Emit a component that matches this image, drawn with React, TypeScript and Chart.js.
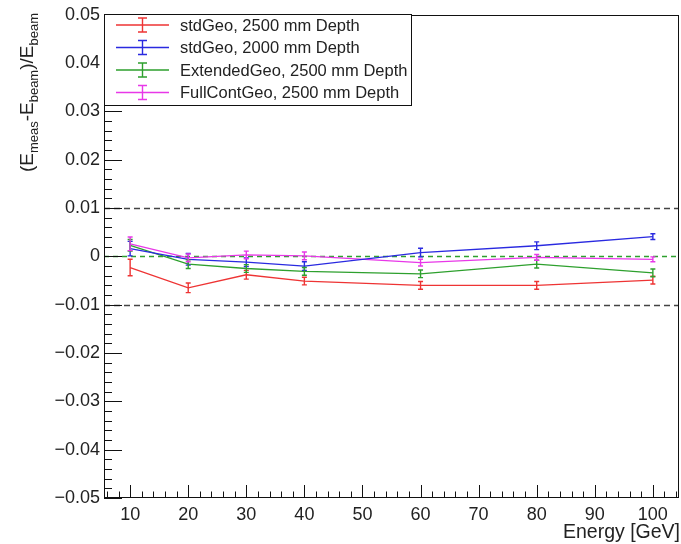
import React, { useEffect, useRef } from "react";
import { Chart, registerables } from "chart.js";

Chart.register(...registerables);

const energies = [10, 20, 30, 40, 60, 80, 100];

const stdGeo2500 = [-0.0023, -0.0065, -0.0038, -0.0051, -0.006, -0.006, -0.0049];
const stdGeo2500Err = [0.0017, 0.001, 0.0009, 0.0008, 0.0008, 0.0008, 0.0008];

const stdGeo2000 = [0.0016, -0.0006, -0.0012, -0.002, 0.0008, 0.0022, 0.0041];
const stdGeo2000Err = [0.0015, 0.0012, 0.0009, 0.0009, 0.0009, 0.0008, 0.0006];

const extGeo2500 = [0.0023, -0.0016, -0.0025, -0.0031, -0.0036, -0.0016, -0.0034];
const extGeo2500Err = [0.0012, 0.0009, 0.0008, 0.0008, 0.0008, 0.0008, 0.0008];

const fullContGeo2500 = [0.0026, -0.0003, 0.0003, 0.0001, -0.0013, -0.0002, -0.0006];
const fullContGeo2500Err = [0.0014, 0.0008, 0.0008, 0.0008, 0.0007, 0.0006, 0.0005];

const seriesNames = [
  "stdGeo, 2500 mm Depth",
  "stdGeo, 2000 mm Depth",
  "ExtendedGeo, 2500 mm Depth",
  "FullContGeo, 2500 mm Depth",
];
const seriesColors = ["#ee3434", "#2a2ae0", "#2ea02e", "#e838e8"];

const xTicks = [10, 20, 30, 40, 50, 60, 70, 80, 90, 100];
const yTicks = [-0.05, -0.04, -0.03, -0.02, -0.01, 0, 0.01, 0.02, 0.03, 0.04, 0.05];
const refLines = [-0.01, 0, 0.01];

const xMin = 5.5;
const xMax = 104.5;
const yMin = -0.05;
const yMax = 0.05;

const FONT = "'Liberation Sans', Arial, sans-serif";

function fmtY(v: number): string {
  const r = Math.round(v * 100) / 100;
  if (Math.abs(r) < 1e-9) return "0";
  const s = Math.abs(r).toFixed(2);
  return (r < 0 ? "\u2212" : "") + s;
}

const rootPlugin = {
  id: "rootStyle",
  beforeDatasetsDraw(chart: any) {
    const { ctx, chartArea, scales } = chart;
    const y = scales.y;
    ctx.save();
    for (const v of refLines) {
      const py = Math.round(y.getPixelForValue(v)) + 0.5;
      ctx.beginPath();
      if (v === 0) {
        ctx.strokeStyle = "#2ea02e";
        ctx.lineWidth = 1.5;
        ctx.setLineDash([5, 4]);
      } else {
        ctx.strokeStyle = "#444";
        ctx.lineWidth = 1.5;
        ctx.setLineDash([6, 4]);
      }
      ctx.moveTo(chartArea.left, py);
      ctx.lineTo(chartArea.right, py);
      ctx.stroke();
    }
    ctx.restore();
  },
  afterDatasetsDraw(chart: any) {
    const { ctx, scales } = chart;
    const x = scales.x;
    const y = scales.y;
    ctx.save();
    chart.data.datasets.forEach((ds: any) => {
      ctx.strokeStyle = ds.borderColor;
      ctx.lineWidth = 1.4;
      ds.data.forEach((p: any, i: number) => {
        const e = ds.errors[i];
        const px = x.getPixelForValue(p.x);
        const y1 = y.getPixelForValue(p.y + e);
        const y2 = y.getPixelForValue(p.y - e);
        ctx.beginPath();
        ctx.moveTo(px, y1);
        ctx.lineTo(px, y2);
        ctx.moveTo(px - 2.5, y1);
        ctx.lineTo(px + 2.5, y1);
        ctx.moveTo(px - 2.5, y2);
        ctx.lineTo(px + 2.5, y2);
        ctx.stroke();
      });
    });
    ctx.restore();
  },
  afterDraw(chart: any) {
    const { ctx, chartArea, scales } = chart;
    const { left, right, top, bottom } = chartArea;
    const x = scales.x;
    const y = scales.y;
    ctx.save();
    ctx.setLineDash([]);
    ctx.strokeStyle = "#111";
    ctx.lineWidth = 1;
    // frame
    ctx.strokeRect(Math.round(left) + 0.5, Math.round(top) + 0.5, Math.round(right - left) - 1, Math.round(bottom - top) - 1);
    // y ticks (inside)
    ctx.beginPath();
    for (let k = 0; k <= 50; k++) {
      const v = yMin + k * 0.002;
      const py = Math.round(y.getPixelForValue(v)) + 0.5;
      const len = k % 5 === 0 ? 18 : 8;
      ctx.moveTo(left, py);
      ctx.lineTo(left + len, py);
    }
    // x ticks (inside)
    for (let v = 6; v <= 104; v += 2) {
      const px = Math.round(x.getPixelForValue(v)) + 0.5;
      const len = v % 10 === 0 ? 13 : 6.5;
      ctx.moveTo(px, bottom);
      ctx.lineTo(px, bottom - len);
    }
    ctx.stroke();

    // legend
    const lx0 = 104.5, ly0 = 14.5, lx1 = 411.5, ly1 = 105.5;
    ctx.fillStyle = "#fff";
    ctx.fillRect(lx0, ly0, lx1 - lx0, ly1 - ly0);
    ctx.strokeStyle = "#111";
    ctx.lineWidth = 1;
    ctx.strokeRect(lx0, ly0, lx1 - lx0, ly1 - ly0);
    const rows = [25, 47.5, 70, 92.5];
    ctx.font = `16.5px ${FONT}`;
    ctx.textBaseline = "middle";
    ctx.textAlign = "left";
    seriesNames.forEach((name, i) => {
      const ry = rows[i];
      ctx.strokeStyle = seriesColors[i];
      ctx.lineWidth = 1.4;
      ctx.beginPath();
      ctx.moveTo(116, ry);
      ctx.lineTo(169, ry);
      ctx.moveTo(142.5, ry - 7);
      ctx.lineTo(142.5, ry + 7);
      ctx.moveTo(138, ry - 7);
      ctx.lineTo(147, ry - 7);
      ctx.moveTo(138, ry + 7);
      ctx.lineTo(147, ry + 7);
      ctx.stroke();
      ctx.fillStyle = "#222";
      ctx.fillText(name, 180, ry + 1);
    });

    // x title
    ctx.fillStyle = "#222";
    ctx.font = `19.5px ${FONT}`;
    ctx.textAlign = "right";
    ctx.textBaseline = "alphabetic";
    ctx.fillText("Energy [GeV]", 680, 538);

    // y title with subscripts
    const parts: [string, boolean][] = [
      ["(E", false],
      ["meas", true],
      ["-E", false],
      ["beam", true],
      [")/E", false],
      ["beam", true],
    ];
    const big = `19px ${FONT}`;
    const small = `13px ${FONT}`;
    let total = 0;
    const widths: number[] = [];
    for (const [t, sub] of parts) {
      ctx.font = sub ? small : big;
      const w = ctx.measureText(t).width;
      widths.push(w);
      total += w;
    }
    const endY = 13;
    ctx.translate(33, endY + total);
    ctx.rotate(-Math.PI / 2);
    ctx.textAlign = "left";
    let cx = 0;
    parts.forEach(([t, sub], i) => {
      ctx.font = sub ? small : big;
      ctx.fillText(t, cx, sub ? 5 : 0);
      cx += widths[i];
    });
    ctx.restore();
  },
};

export default function App() {
  const ref = useRef<HTMLCanvasElement | null>(null);
  useEffect(() => {
    if (!ref.current) return;
    const allSeries = [
      [stdGeo2500, stdGeo2500Err],
      [stdGeo2000, stdGeo2000Err],
      [extGeo2500, extGeo2500Err],
      [fullContGeo2500, fullContGeo2500Err],
    ];
    const datasets = allSeries.map(([vals, errs], i) => ({
      label: seriesNames[i],
      data: energies.map((e, j) => ({ x: e, y: vals[j] })),
      errors: errs,
      borderColor: seriesColors[i],
      backgroundColor: seriesColors[i],
      borderWidth: 1.3,
      pointRadius: 0,
      tension: 0,
      fill: false,
    }));
    const chart = new Chart(ref.current, {
      type: "line",
      data: { datasets: datasets as any },
      plugins: [rootPlugin],
      options: {
        animation: false,
        responsive: false,
        maintainAspectRatio: false,
        layout: { padding: { top: 14, right: 2, left: 0, bottom: 0 } },
        plugins: { legend: { display: false }, tooltip: { enabled: false } },
        scales: {
          x: {
            type: "linear",
            min: xMin,
            max: xMax,
            grid: { display: false, drawTicks: false },
            border: { display: false },
            afterBuildTicks: (s: any) => {
              s.ticks = xTicks.map((v) => ({ value: v }));
            },
            afterFit: (s: any) => {
              s.height = 46;
            },
            ticks: {
              autoSkip: false,
              maxRotation: 0,
              padding: 6,
              color: "#222",
              font: { family: FONT, size: 18 },
              callback: (v: any) => String(v),
            },
          },
          y: {
            type: "linear",
            min: yMin,
            max: yMax,
            grid: { display: false, drawTicks: false },
            border: { display: false },
            afterBuildTicks: (s: any) => {
              s.ticks = yTicks.map((v) => ({ value: v }));
            },
            afterFit: (s: any) => {
              s.width = 104;
            },
            ticks: {
              autoSkip: false,
              padding: 4,
              color: "#222",
              font: { family: FONT, size: 18 },
              callback: (v: any) => fmtY(Number(v)),
            },
          },
        },
      },
    });
    return () => chart.destroy();
  }, []);
  return (
    <div style={{ position: "fixed", left: 0, top: 0, width: 681, height: 544, background: "#fff" }}>
      <canvas ref={ref} width={681} height={544} style={{ width: 681, height: 544 }} />
    </div>
  );
}
